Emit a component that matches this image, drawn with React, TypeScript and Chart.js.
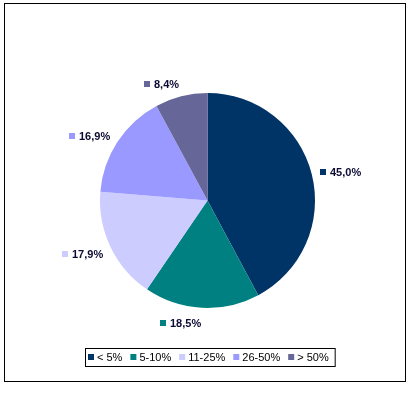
import React, { useEffect, useRef } from "react";
import { Chart, registerables } from "chart.js";

Chart.register(...registerables);

const categories = ["< 5%", "5-10%", "11-25%", "26-50%", "> 50%"];
const values = [45.0, 18.5, 17.9, 16.9, 8.4];
const valueLabels = ["45,0%", "18,5%", "17,9%", "16,9%", "8,4%"];
const colors = ["#003366", "#008080", "#CCCCFF", "#9999FF", "#666699"];

const FONT = "'Liberation Sans', Arial, sans-serif";

const decorPlugin = {
  id: "decor",
  afterDraw(chart: any) {
    const ctx = chart.ctx as CanvasRenderingContext2D;
    const meta = chart.getDatasetMeta(0);
    ctx.save();

    // outer frame
    ctx.strokeStyle = "#000";
    ctx.lineWidth = 1;
    ctx.strokeRect(4.5, 3.5, 401, 378);

    // data labels
    ctx.font = `bold 11px ${FONT}`;
    ctx.textBaseline = "middle";
    meta.data.forEach((arc: any, i: number) => {
      const mid = (arc.startAngle + arc.endAngle) / 2;
      const R = arc.outerRadius + 8.5;
      const px = arc.x + R * Math.cos(mid);
      const py = arc.y + R * Math.sin(mid);
      const text = valueLabels[i];
      const tw = ctx.measureText(text).width;
      const gw = 6 + 4 + tw;
      const left = Math.cos(mid) >= 0 ? px : px - gw;
      const cy = py + 5.5 * Math.sin(mid) + 1.5;
      ctx.fillStyle = colors[i];
      ctx.fillRect(Math.round(left), Math.round(cy - 3), 6, 6);
      ctx.fillStyle = "#0a0a33";
      ctx.textAlign = "left";
      ctx.fillText(text, Math.round(left) + 10, cy + 1);
    });

    // legend
    ctx.font = `11px ${FONT}`;
    const widths = categories.map((c) => ctx.measureText(c).width);
    const itemW = widths.map((w) => 6 + 3 + w);
    const gap = 8;
    const total = itemW.reduce((a, b) => a + b, 0) + gap * (categories.length - 1);
    const cx = meta.data[0].x + 1;
    let x = Math.round(cx - total / 2);
    const padL = 3;
    const padR = 6;
    const top = 348;
    const h = 18;
    ctx.strokeStyle = "#000";
    ctx.strokeRect(x - padL + 0.5, top + 0.5, total + padL + padR, h);
    const ly = top + h / 2 + 0.5;
    categories.forEach((c, i) => {
      ctx.fillStyle = colors[i];
      ctx.fillRect(x, Math.round(ly - 3.5), 6, 6);
      ctx.fillStyle = "#000";
      ctx.textAlign = "left";
      ctx.fillText(c, x + 9, ly);
      x += itemW[i] + gap;
    });

    ctx.restore();
  },
};

export default function App() {
  const ref = useRef<HTMLCanvasElement | null>(null);
  useEffect(() => {
    document.body.style.margin = "0";
    document.body.style.background = "#fff";
    const canvas = ref.current!;
    const chart = new Chart(canvas, {
      type: "pie",
      data: {
        labels: categories,
        datasets: [
          {
            data: values,
            backgroundColor: colors,
            borderWidth: 0,
          },
        ],
      },
      options: {
        responsive: false,
        animation: false,
        layout: { padding: { left: 100, right: 98, top: 93, bottom: 86 } },
        plugins: {
          legend: { display: false },
          tooltip: { enabled: false },
        },
      },
      plugins: [decorPlugin],
    });
    return () => chart.destroy();
  }, []);
  return (
    <div style={{ width: 413, height: 394, background: "#fff" }}>
      <canvas ref={ref} width={413} height={394} style={{ display: "block" }} />
    </div>
  );
}
